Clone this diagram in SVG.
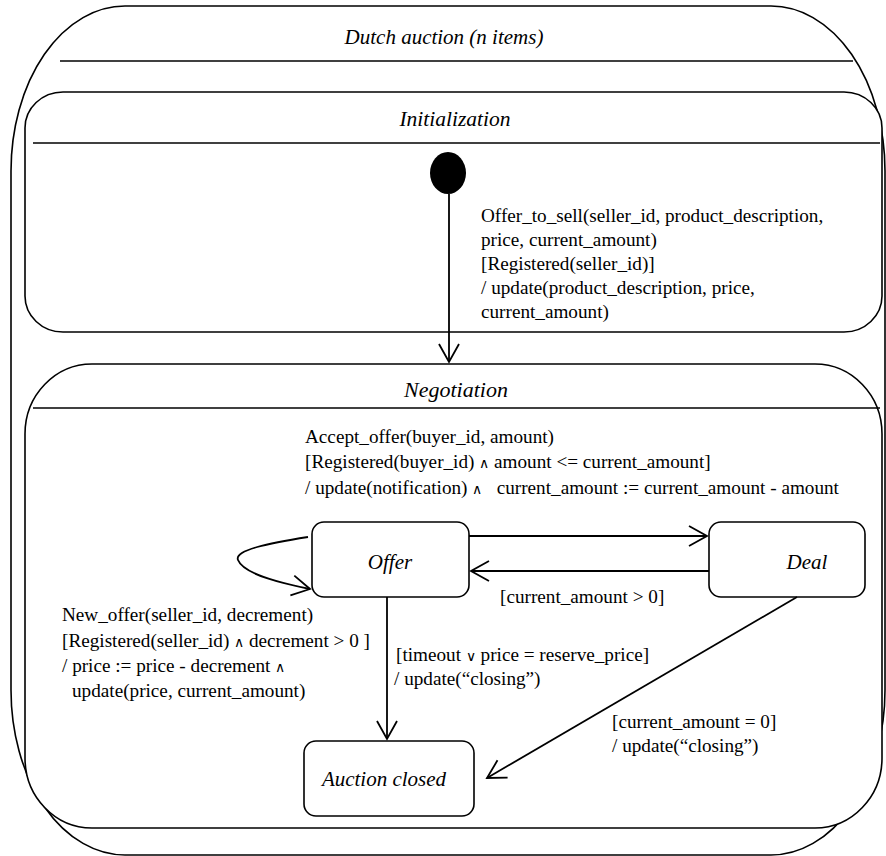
<svg xmlns="http://www.w3.org/2000/svg" width="886" height="856" viewBox="0 0 886 856">
<defs>
<style>
.box{fill:#fff;stroke:#000;stroke-width:1.6}
.ln{fill:none;stroke:#000;stroke-width:1.6}
.cn{fill:none;stroke:#000;stroke-width:1.8}
text{font-family:'Liberation Serif','Times New Roman',serif;fill:#000}
.t{font-size:19.2px}
.ti{font-size:21.5px;font-style:italic}
.st{font-size:21px;font-style:italic}
.op{font-size:14px}
</style>
<marker id="arr" markerUnits="userSpaceOnUse" markerWidth="24" markerHeight="24" refX="20" refY="12" orient="auto" viewBox="0 0 24 24">
<path d="M2,2 L20,12 L2,22" fill="none" stroke="#000" stroke-width="1.8"/>
</marker>
</defs>
<rect width="886" height="856" fill="#fff"/>

<g id="dutch-auction">
<path class="box" d="M125,6 H771 A114,165 0 0 1 885,171 V690 A114,165 0 0 1 771,855 H125 A114,165 0 0 1 11,690 V171 A114,165 0 0 1 125,6 Z"/>
<text class="ti" x="444" y="44" text-anchor="middle" style="font-size:21px">Dutch auction (n items)</text>
<line class="ln" x1="60" y1="61" x2="853" y2="61"/>
</g>

<g id="initialization">
<rect class="box" x="25" y="92" width="857" height="240" rx="38" ry="36"/>
<text class="ti" x="455" y="126" text-anchor="middle">Initialization</text>
<line class="ln" x1="33" y1="143" x2="880" y2="143"/>
</g>

<g id="negotiation">
<rect class="box" x="25" y="364" width="857" height="464" rx="67" ry="70"/>
<text class="ti" x="456" y="397" text-anchor="middle" style="font-size:22px">Negotiation</text>
<line class="ln" x1="33" y1="408" x2="880" y2="408"/>
</g>

<g id="initial-state">
<ellipse cx="448" cy="173" rx="18" ry="21" fill="#000"/>
</g>

<g id="offer">
<rect class="box" x="312" y="522" width="157" height="75" rx="12" ry="12"/>
<text class="st" x="390" y="569" text-anchor="middle">Offer</text>
</g>

<g id="deal">
<rect class="box" x="709" y="522" width="156" height="75" rx="12" ry="12"/>
<text class="st" x="807" y="569" text-anchor="middle">Deal</text>
</g>

<g id="auction-closed">
<rect class="box" x="304" y="741" width="170" height="75" rx="12" ry="12"/>
<text class="st" x="384" y="786" text-anchor="middle">Auction closed</text>
</g>

<g id="connectors">
<path class="cn" d="M449,194 V362" marker-end="url(#arr)"/>
<path class="cn" d="M469,536 H707" marker-end="url(#arr)"/>
<path class="cn" d="M709,571 H471" marker-end="url(#arr)"/>
<path class="cn" d="M308,537 C270,543 234,550 238,560 C244,575 285,584 310,589" marker-end="url(#arr)"/>
<path class="cn" d="M387,597 V739" marker-end="url(#arr)"/>
<path class="cn" d="M797,597 L487,778" marker-end="url(#arr)"/>
</g>

<g id="labels">
<text class="t" x="481" y="222">Offer_to_sell(seller_id, product_description,</text>
<text class="t" x="481" y="246">price, current_amount)</text>
<text class="t" x="481" y="270">[Registered(seller_id)]</text>
<text class="t" x="481" y="294">/ update(product_description, price,</text>
<text class="t" x="481" y="318">current_amount)</text>

<text class="t" x="305" y="443">Accept_offer(buyer_id, amount)</text>
<text class="t" x="305" y="468">[Registered(buyer_id) <tspan class="op">∧</tspan> amount &lt;= current_amount]</text>
<text class="t" x="305" y="494" xml:space="preserve">/ update(notification) <tspan class="op">∧</tspan>   current_amount := current_amount - amount</text>

<text class="t" x="500" y="603">[current_amount &gt; 0]</text>

<text class="t" x="62" y="621">New_offer(seller_id, decrement)</text>
<text class="t" x="62" y="647">[Registered(seller_id) <tspan class="op">∧</tspan> decrement &gt; 0 ]</text>
<text class="t" x="62" y="672">/ price := price - decrement <tspan class="op">∧</tspan></text>
<text class="t" x="72" y="697">update(price, current_amount)</text>

<text class="t" x="396" y="661">[timeout <tspan class="op">∨</tspan> price = reserve_price]</text>
<text class="t" x="394" y="685">/ update(“closing”)</text>

<text class="t" x="612" y="728">[current_amount = 0]</text>
<text class="t" x="612" y="752">/ update(“closing”)</text>
</g>
</svg>
